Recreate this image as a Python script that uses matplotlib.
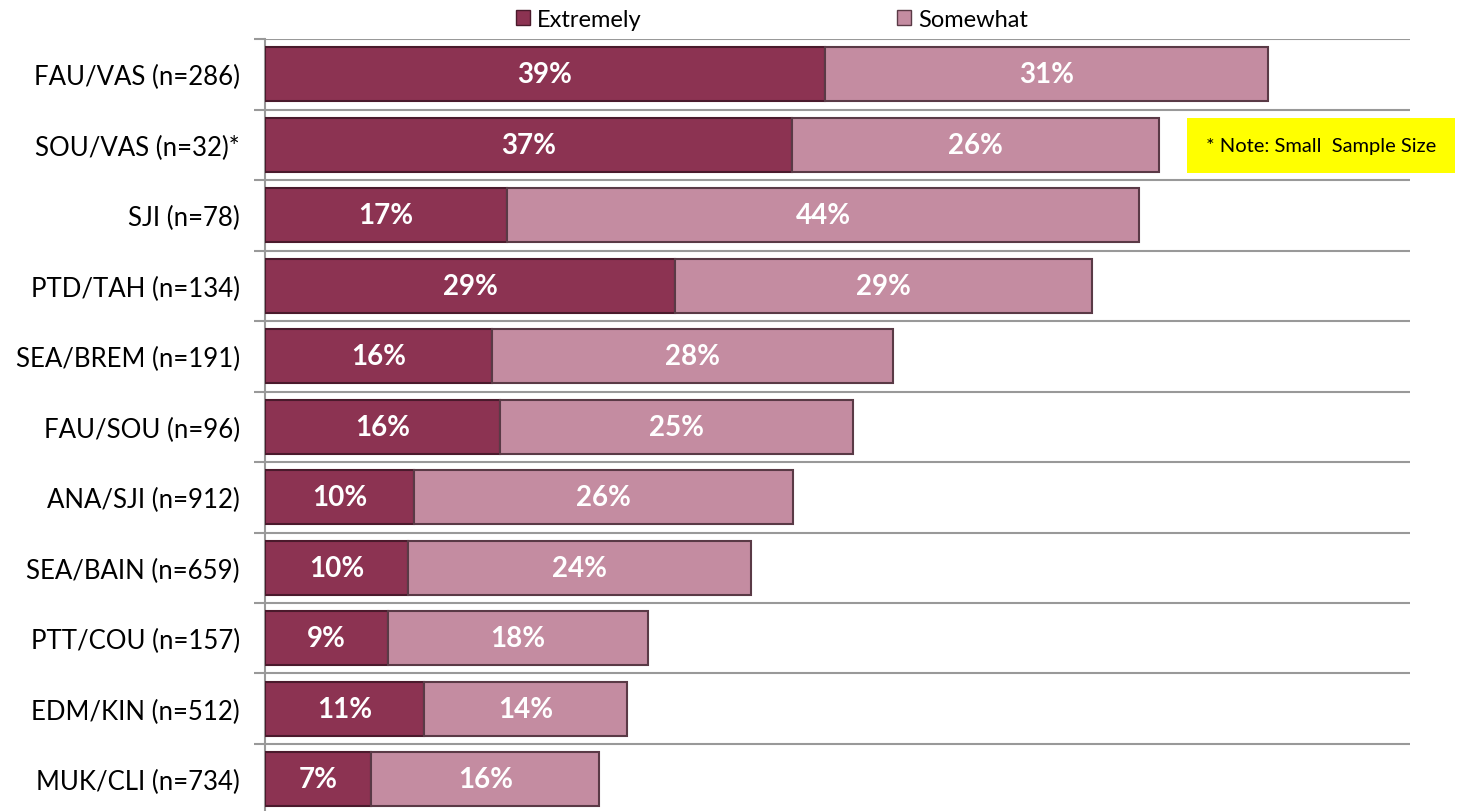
import matplotlib.pyplot as plt
from matplotlib.patches import Patch

plt.rcParams['font.family'] = ['Lato', 'DejaVu Sans']

categories = ['FAU/VAS (n=286)', 'SOU/VAS (n=32)*', 'SJI (n=78)', 'PTD/TAH (n=134)',
              'SEA/BREM (n=191)', 'FAU/SOU (n=96)', 'ANA/SJI (n=912)', 'SEA/BAIN (n=659)',
              'PTT/COU (n=157)', 'EDM/KIN (n=512)', 'MUK/CLI (n=734)']
extremely = [39.0, 36.7, 16.9, 28.6, 15.8, 16.4, 10.4, 10.0, 8.6, 11.1, 7.4]
somewhat = [30.9, 25.6, 44.0, 29.0, 28.0, 24.6, 26.4, 23.9, 18.1, 14.1, 15.9]

c_ext = '#8c3352'
c_som = '#c48ca1'

fig = plt.figure(figsize=(14.67, 8.12), dpi=100)
ax = fig.add_axes([0.1806, -0.0043, 0.7806, 0.955])

y = list(range(len(categories)))
b1 = ax.barh(y, extremely, height=0.77, color=c_ext, edgecolor='#4a1a2c', linewidth=1.5, zorder=3)
b2 = ax.barh(y, somewhat, left=extremely, height=0.77, color=c_som, edgecolor='#5a3a46',
             linewidth=1.5, zorder=3)

for bars in (b1, b2):
    for r in bars:
        w = r.get_width()
        ax.text(r.get_x() + w / 2, r.get_y() + r.get_height() / 2, '%.0f%%' % w,
                ha='center', va='center', color='white', fontsize=20, fontweight='bold', zorder=4)

ax.set_xlim(0, 79.8)
ax.set_ylim(len(categories) - 0.5, -0.5)
ax.set_yticks(y)
ax.set_yticklabels(categories, fontsize=18.5)
ax.set_yticks([i - 0.5 for i in range(len(categories) + 1)], minor=True)
ax.tick_params(axis='y', which='major', length=0, pad=18)
ax.tick_params(axis='y', which='minor', length=8, color='#999999', width=1.5)
ax.set_xticks([])
ax.grid(axis='y', which='minor', color='#999999', linewidth=1.5, zorder=0)
for s in ['top', 'right', 'bottom']:
    ax.spines[s].set_visible(False)
ax.spines['left'].set_color('#999999')
ax.spines['left'].set_linewidth(1.5)

handles = [Patch(facecolor=c_ext, edgecolor='#4a1a2c'), Patch(facecolor=c_som, edgecolor='#5a3a46')]
fig.legend(handles, ['Extremely', 'Somewhat'], loc='center', bbox_to_anchor=(0.526, 0.975), ncol=2,
           frameon=False, fontsize=17, columnspacing=10.8, handlelength=0.6, handleheight=0.6,
           handletextpad=0.3)

fig.text(0.9005, 0.820, '* Note: Small  Sample Size', ha='center', va='center', fontsize=14.5,
         bbox=dict(boxstyle='square,pad=0.95', facecolor='#ffff00', edgecolor='none'))

fig.savefig('out.png', dpi=100)
